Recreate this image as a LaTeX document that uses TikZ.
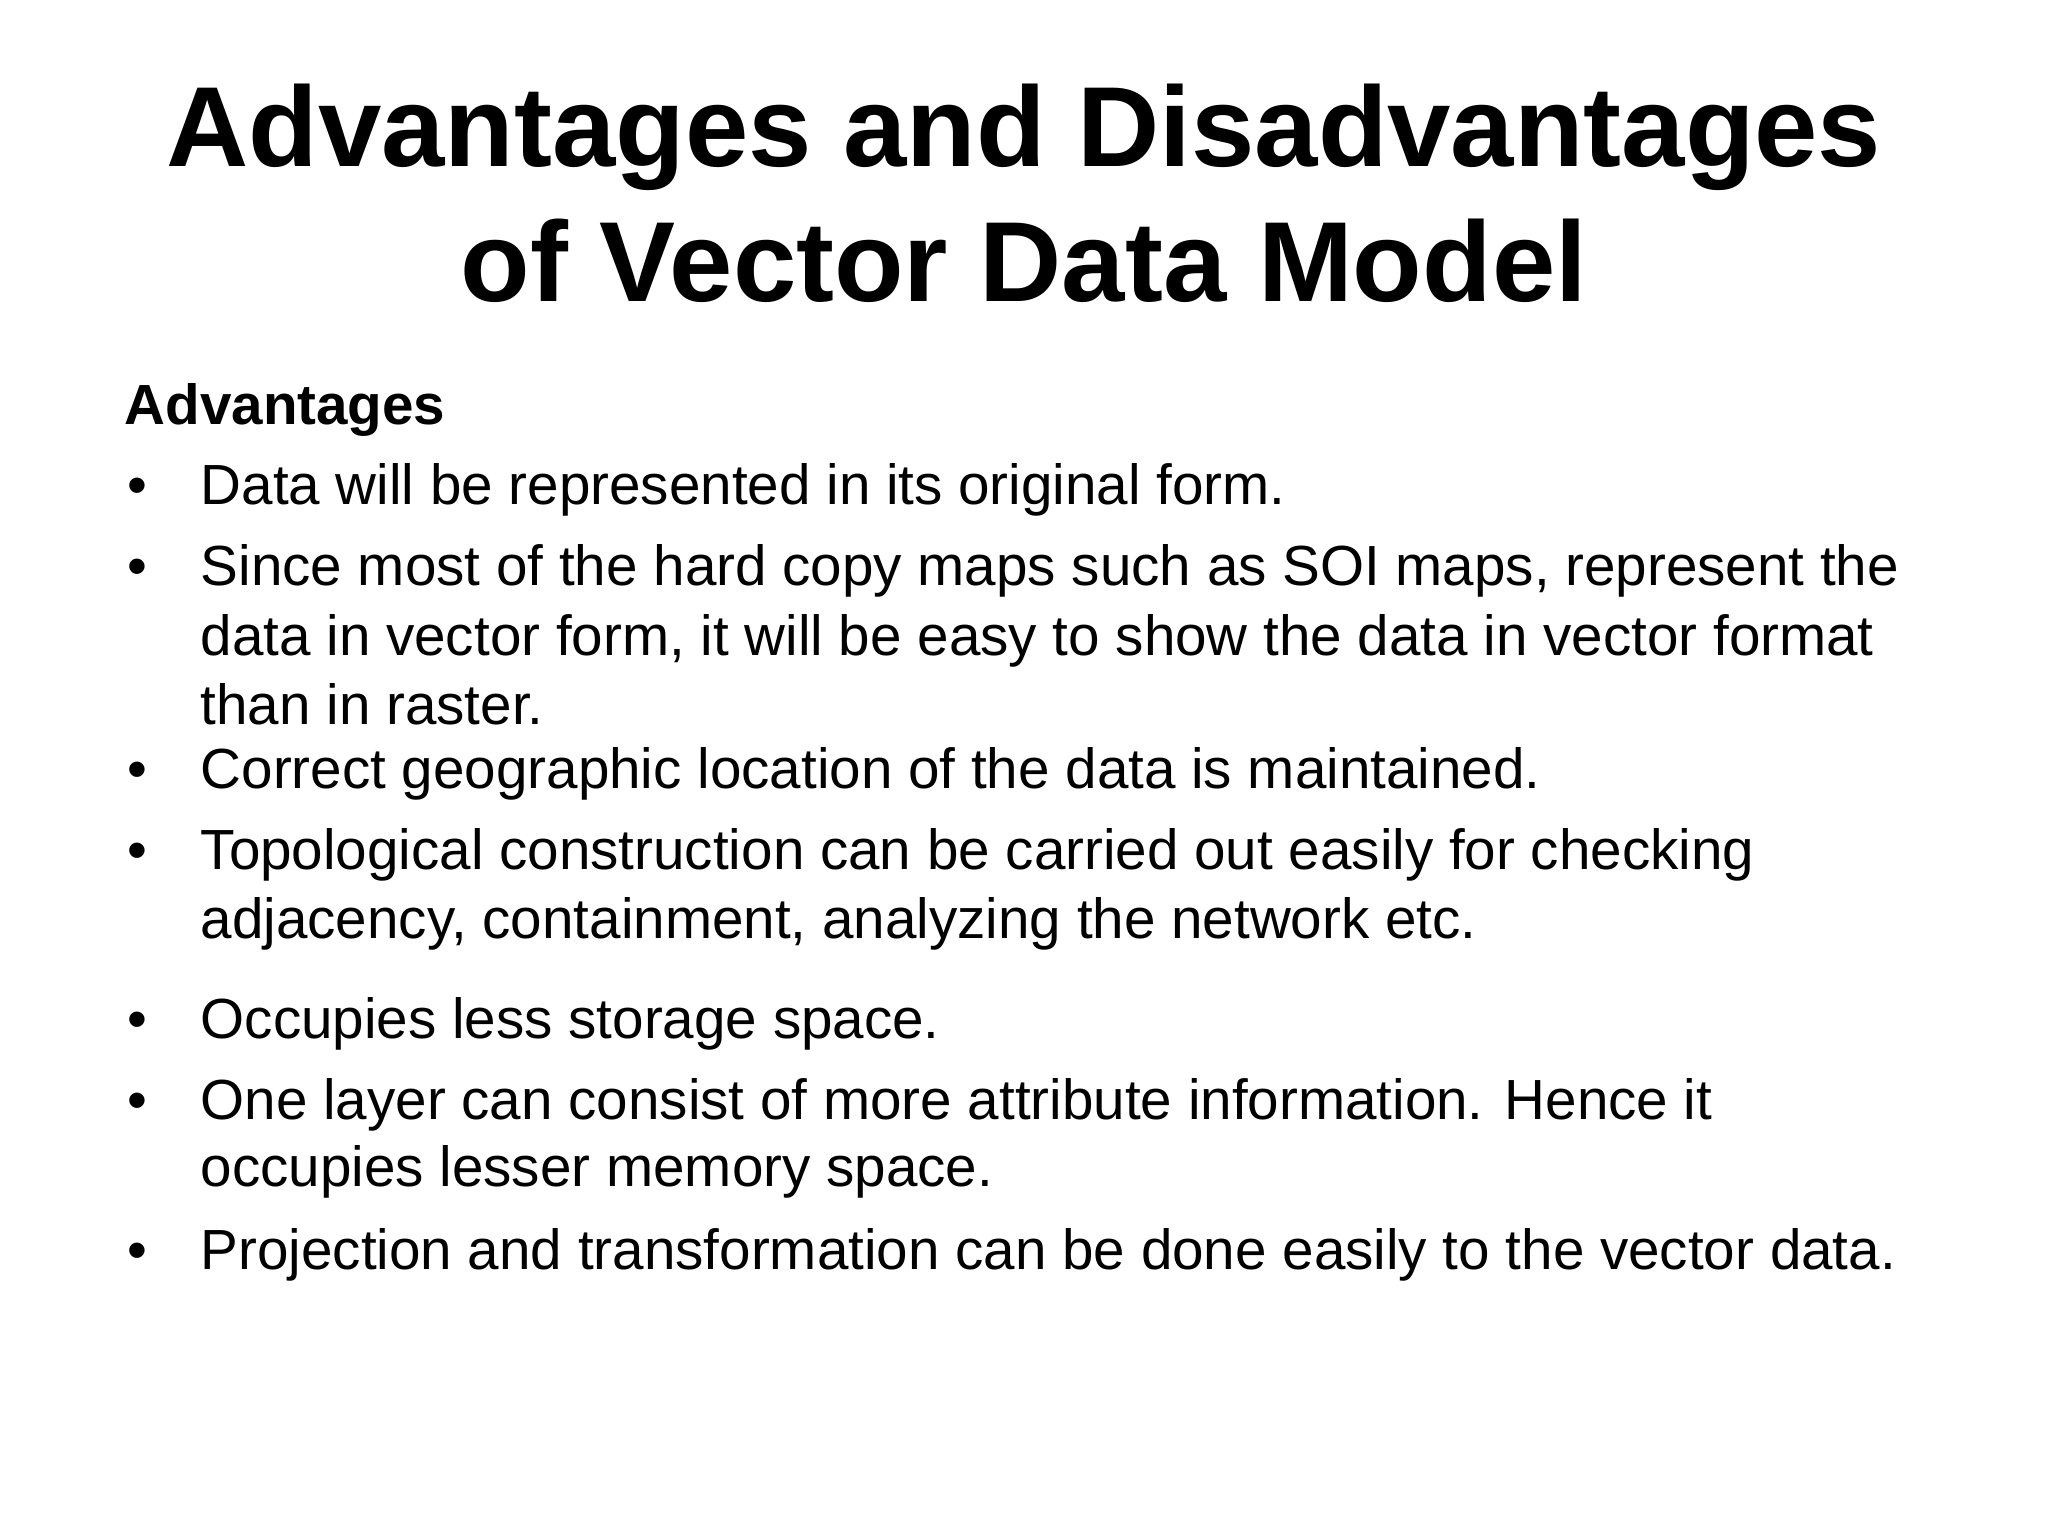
\documentclass[tikz,border=0pt]{standalone}
\usepackage{fontspec}
\setmainfont{Liberation Sans}
\begin{document}
\begin{tikzpicture}[x=1cm,y=1cm,
  ttl/.style={font=\fontsize{32.4}{40}\selectfont\bfseries, anchor=base},
  body/.style={font=\fontsize{16.1}{19.6}\selectfont, anchor=base west, inner sep=0pt},
  bul/.style={font=\fontsize{16.1}{19.6}\selectfont, anchor=base west, inner sep=0pt}]
\useasboundingbox (0,0) rectangle (20.48,-15.36);
\node[ttl] (t1) at (10.24,-1.67) {Advantages and Disadvantages};
\node[ttl] (t2) at (10.24,-3.02) {of Vector Data Model};
\node[body,font=\fontsize{16.1}{19.6}\selectfont\bfseries] (adv) at (1.24,-4.24) {Advantages};
\foreach \y/\n/\t in {
  5.05/b1/{Data will be represented in its original form.},
  5.86/b2/{Since most of the hard copy maps such as SOI maps, represent the},
  7.88/b3/{Correct geographic location of the data is maintained.},
  8.70/b4/{Topological construction can be carried out easily for checking},
  10.38/b5/{Occupies less storage space.},
  11.19/b6/{One layer can consist of more attribute information. Hence it},
  12.69/b7/{Projection and transformation can be done easily to the vector data.}}
{
  \node[bul] (d\n) at (1.27,-\y) {•};
  \node[body] (\n) at (2.0,-\y) {\t};
}
\foreach \y/\n/\t in {
  6.56/c1/{data in vector form, it will be easy to show the data in vector format},
  7.24/c2/{than in raster.},
  9.38/c3/{adjacency, containment, analyzing the network etc.},
  11.87/c4/{occupies lesser memory space.}}
{
  \node[body] (\n) at (2.0,-\y) {\t};
}
\end{tikzpicture}
\end{document}
